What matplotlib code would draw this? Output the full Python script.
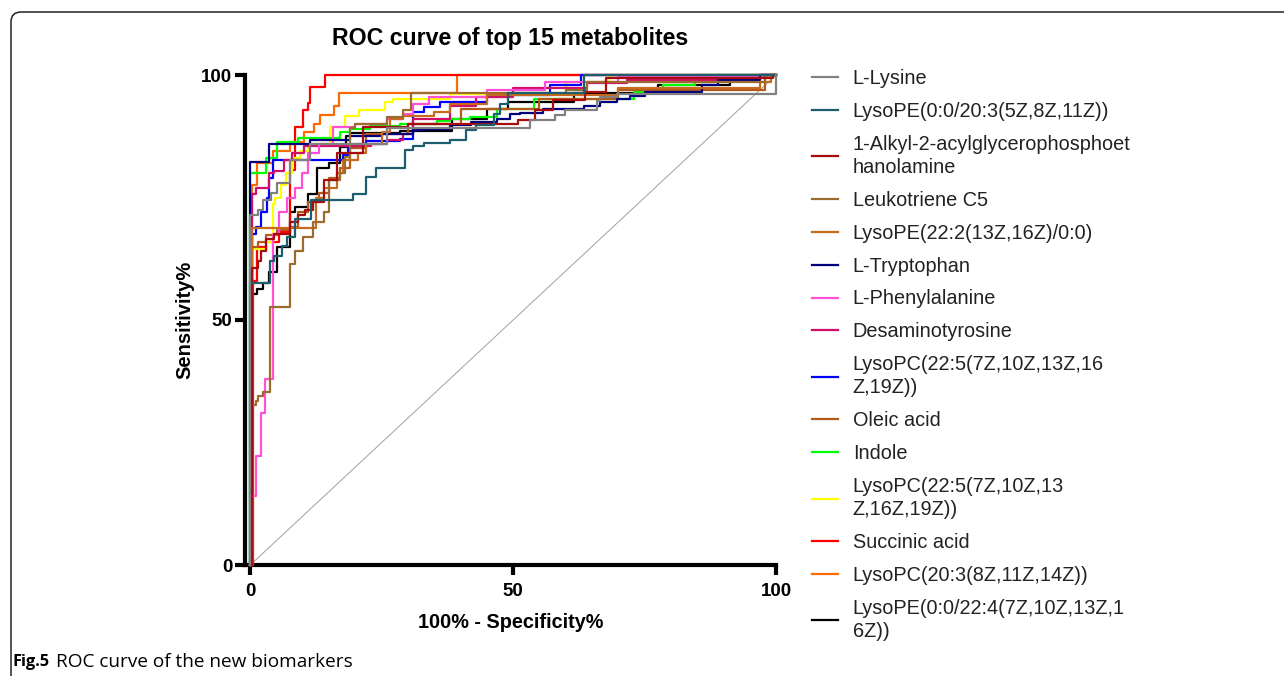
import matplotlib
matplotlib.use("Agg")
import matplotlib.pyplot as plt
from matplotlib.patches import FancyBboxPatch

plt.rcParams['font.family'] = ['Liberation Sans', 'DejaVu Sans']

# ROC curves: at each fpr value the curve rises to the tpr value (steps-post)
lysine_x = [0, 0, 1.5, 2.5, 4, 5, 7.5, 11.4, 26, 53.2, 58, 59.9, 66, 66.5, 69.7, 100]
lysine_y = [0, 71.4, 72.5, 74.5, 76, 78, 82.6, 86, 89.2, 90.8, 91.9, 92.9, 94.6, 95.5, 96.2, 100]

lpe203_x = [0, 0, 3.8, 4.5, 6, 7, 8.5, 11.5, 19.6, 22, 24, 29.5, 31, 33, 38, 41, 43, 46.3, 47.5, 49, 63.4, 100]
lpe203_y = [0, 57.6, 62, 63, 65.2, 67, 70.7, 74.5, 75.8, 79.2, 81, 84.6, 85.6, 86.2, 86.7, 88.7, 89.8, 92, 94, 96.3, 100, 100]

alkyl_x = [0, 0.3, 1.5, 2, 3, 4.5, 7.5, 9, 10.5, 12, 14, 16.5, 21.5, 30, 51, 54.2, 57.6, 63.7, 67.6, 99.5]
alkyl_y = [0, 60.6, 62, 64, 66.6, 67.5, 70, 71.5, 72.5, 74, 78.5, 84, 89.4, 90, 90.8, 92.9, 94.9, 96.6, 99.4, 100]

ltc5_x = [0, 0.3, 1, 1.5, 2.5, 3.8, 7.6, 8.5, 10, 12, 14, 15, 17, 18, 19, 20, 26, 29, 30.5, 60, 64, 98]
ltc5_y = [0, 32.7, 33.5, 34.5, 35.3, 52.7, 61.5, 64, 67, 70, 72, 78.5, 80, 83.3, 89.2, 90, 91.5, 92.9, 96.3, 97, 98.5, 100]

lpe222_x = [0, 0.3, 12.5, 14, 16.5, 17.7, 20.5, 22, 25, 26.5, 29, 35, 38, 45, 70, 97, 99]
lpe222_y = [0, 68.7, 75, 77, 80, 82.6, 84, 86, 88.4, 91, 91.7, 92.5, 94, 96, 97.3, 98.6, 100]

trp_x = [0, 0, 3.5, 11.4, 19, 25, 31, 33, 38, 42, 47, 49.4, 51.3, 55.7, 63.4, 66.5, 69.7, 72.2, 75, 86, 89, 97]
trp_y = [0, 82.3, 86, 86.7, 87.5, 88, 88.7, 89, 89.8, 90.5, 91, 92, 92.2, 93, 93.6, 94.4, 95, 95.8, 96.5, 98, 99, 100]

phe_x = [0, 0.4, 1, 2, 2.8, 4.4, 5.5, 7, 8.5, 9.8, 11, 13, 15.8, 20, 26, 29, 31, 34, 45, 56, 70, 97]
phe_y = [0, 14, 22.3, 31, 38, 67.6, 72, 75, 77, 80, 84, 86, 89.4, 90, 91, 92, 94, 95.5, 97, 98.5, 99.5, 100]

dat_x = [0, 0.3, 1, 3.5, 4.5, 6.5, 8, 10.3, 23, 26, 29, 31, 38, 43, 50, 64, 71.6, 96.3]
dat_y = [0, 75.8, 77, 79.9, 80.5, 82.6, 84, 85.6, 86, 86.7, 88, 91, 93.7, 95.6, 97.3, 98.3, 99, 100]

lpc225a_x = [0, 0.3, 1, 2, 3.2, 3.5, 4.4, 17.7, 18.5, 20, 22, 28.5, 31, 33, 36, 45, 57, 63]
lpc225a_y = [0, 67.5, 69, 72, 75, 79, 82.6, 83.7, 85.6, 86, 86.5, 87, 92.5, 93.5, 94.5, 96, 98, 100]

oleic_x = [0, 0.3, 1.5, 3, 5, 7.5, 9, 11, 13, 15, 17, 19, 22, 30, 40, 55, 70, 98]
oleic_y = [0, 65, 66, 67.3, 68.3, 69, 72, 74, 76, 79, 81, 85, 88, 90, 93, 95, 97, 100]

indole_x = [0, 0, 3, 5, 9, 17, 19, 22.8, 28.5, 35.6, 38, 41.8, 47, 54, 73, 78.5, 84.6]
indole_y = [0, 80, 83, 86.3, 87.2, 88.4, 89, 89.5, 90, 90.6, 91, 91.5, 93, 95, 96.6, 98, 100]

lpc225b_x = [0, 0.3, 3.1, 4.4, 4.8, 5.8, 6.8, 8, 9.5, 11, 15.2, 18, 20.6, 25.6, 27.2, 38, 60, 68]
lpc225b_y = [0, 64.5, 66, 73.7, 75, 77.5, 80, 83, 84.5, 86, 89.4, 91.7, 92.8, 94.5, 95.2, 96.2, 98.5, 100]

succ_x = [0, 0.5, 1.3, 3, 5.5, 7.6, 8.5, 10.1, 11, 11.4, 14.3]
succ_y = [0, 58, 64.8, 66, 68, 80.6, 89.4, 92.9, 94.2, 97.6, 100]

lpc203_x = [0, 0.3, 1.3, 4.4, 7.6, 10.3, 12.1, 13.3, 16, 16.9, 39.3]
lpc203_y = [0, 77.5, 82, 84.4, 86.4, 88.4, 90.1, 91.8, 93.6, 96.3, 100]

lpe224_x = [0, 0.3, 1.3, 2.5, 3.5, 5, 7.6, 8.5, 11, 12.6, 15, 17, 18.3, 19, 28.5, 38.3, 45, 49, 61.5, 77.6, 91.2, 97]
lpe224_y = [0, 55.4, 56.3, 57.5, 59.7, 65, 72, 73, 75.7, 81, 82, 85.3, 87.5, 88.1, 88.5, 91, 93, 94.4, 96.3, 98, 99.5, 100]

names = ['L-Lysine', 'LysoPE(0:0/20:3(5Z,8Z,11Z))',
         '1-Alkyl-2-acylglycerophosphoet\nhanolamine', 'Leukotriene C5',
         'LysoPE(22:2(13Z,16Z)/0:0)', 'L-Tryptophan', 'L-Phenylalanine',
         'Desaminotyrosine', 'LysoPC(22:5(7Z,10Z,13Z,16\nZ,19Z))', 'Oleic acid',
         'Indole', 'LysoPC(22:5(7Z,10Z,13\nZ,16Z,19Z))', 'Succinic acid',
         'LysoPC(20:3(8Z,11Z,14Z))', 'LysoPE(0:0/22:4(7Z,10Z,13Z,1\n6Z))']
curves_x = [lysine_x, lpe203_x, alkyl_x, ltc5_x, lpe222_x, trp_x, phe_x, dat_x,
            lpc225a_x, oleic_x, indole_x, lpc225b_x, succ_x, lpc203_x, lpe224_x]
curves_y = [lysine_y, lpe203_y, alkyl_y, ltc5_y, lpe222_y, trp_y, phe_y, dat_y,
            lpc225a_y, oleic_y, indole_y, lpc225b_y, succ_y, lpc203_y, lpe224_y]
colors = ['#808080', '#1d5e6c', '#a80c0c', '#9c6b2e', '#c86a1e', '#00007f',
          '#ff50d8', '#d01068', '#0000ff', '#b45a18', '#00ff00', '#ffff00',
          '#ff0000', '#ff6a00', '#000000']

fig = plt.figure(figsize=(12.84, 6.76), dpi=100)
ax = fig.add_axes([245/1284, 1-565/676, (776-245)/1284, (565-75)/676])

ax.plot([0, 100], [0, 100], color='#a0a0a0', lw=0.7, zorder=1)
n = len(names)
for i in range(n):
    # every ROC curve runs on to the (100, 100) corner
    xs = curves_x[i] + [100]
    ys = curves_y[i] + [100]
    ax.plot(xs, ys, drawstyle='steps-post', color=colors[i],
            lw=1.6, label=names[i], zorder=3 + n - i, clip_on=False)

ax.set_xlim(-1, 100)
ax.set_ylim(0, 100)
ax.set_xticks([0, 50, 100])
ax.set_yticks([0, 50, 100])
for s in ['top', 'right']:
    ax.spines[s].set_visible(False)
for s in ['left', 'bottom']:
    ax.spines[s].set_linewidth(3)
ax.tick_params(width=3, length=7, labelsize=13.5)
ax.tick_params(axis='y', pad=2)
ax.tick_params(axis='x', pad=6)
for lab in ax.get_xticklabels() + ax.get_yticklabels():
    lab.set_fontweight('bold')
ax.set_xlabel('100% - Specificity%', fontsize=14.3, fontweight='bold', labelpad=9)
ax.set_ylabel('Sensitivity%', fontsize=14.5, fontweight='bold', labelpad=5)

fig.text(510/1284, 1-38/676, 'ROC curve of top 15 metabolites', fontsize=16.7,
         fontweight='bold', ha='center', va='center')

leg = ax.legend(loc='upper left', bbox_to_anchor=(812/1284, 1-69/676),
                bbox_transform=fig.transFigure, frameon=False, fontsize=14.3,
                handlelength=1.3, handletextpad=0.75, labelspacing=0.7,
                borderpad=0, borderaxespad=0)
for t in leg.get_texts():
    t.set_linespacing(1.27)
    t.set_color('#222222')

# page frame and caption
frame = FancyBboxPatch((0.11, -1), 20, 7.64, boxstyle='round,pad=0,rounding_size=0.1',
                       transform=fig.dpi_scale_trans, fill=False, lw=1.1,
                       edgecolor='#222222')
fig.patches.append(frame)
fig.text(13/1284, 1-662/676, 'Fig.5', fontsize=11.8, fontweight='bold',
         family='Open Sans', va='center', ha='left')
fig.text(56/1284, 1-662/676, 'ROC curve of the new biomarkers', fontsize=13.7,
         family='Open Sans', va='center', ha='left')

fig.savefig('out.png', dpi=100)
